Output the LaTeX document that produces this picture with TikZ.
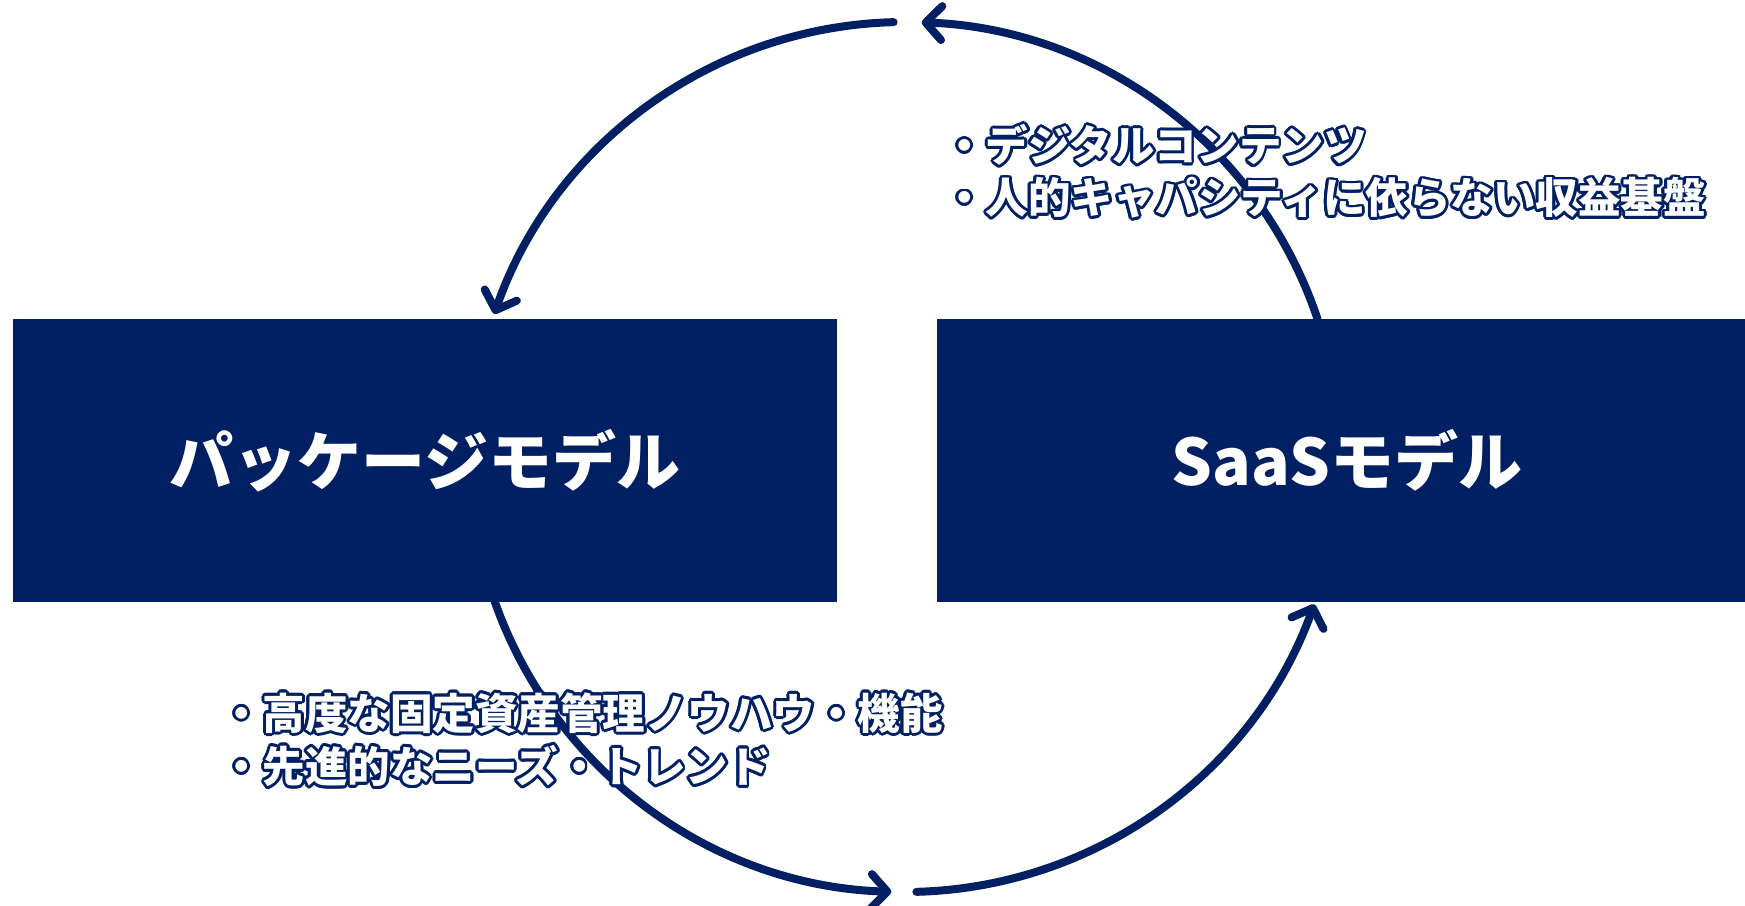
\documentclass[tikz,border=0pt]{standalone}
\usepackage{fontspec}
\newfontfamily\jp{Noto Sans CJK JP}
\usetikzlibrary{arrows.meta,calc}
\definecolor{navy}{RGB}{1,31,99}
\tikzset{
  box/.style={fill=navy, draw=none},
  boxlabel/.style={text=white, font=\jp\bfseries\fontsize{64}{72}\selectfont, inner sep=0},
  cyc/.style={draw=navy, line width=8pt, line cap=round, -{Straight Barb[length=16pt,width=34pt,round]}},
  lbl/.style={anchor=west, inner sep=0, font=\jp\bfseries\fontsize{42.5}{50}\selectfont},
}
\newcommand\halolabel[3]{%
  \foreach \a in {0,22.5,...,337.5} {
    \node[lbl, text=navy] (#1-h\a) at ($(#2)+(\a:2.8)$) {#3};
  }
  \node[lbl, text=white] (#1) at (#2) {#3};
}
\begin{document}
\begin{tikzpicture}[x=1pt,y=1pt]
\useasboundingbox (0,0) rectangle (1745,905);
% boxes
\node[box, minimum width=824pt, minimum height=283pt, inner sep=0, anchor=south west] (pkg) at (13,303) {};
\node[box, minimum width=808pt, minimum height=283pt, inner sep=0, anchor=south west] (saas) at (937,303) {};
\node[boxlabel] (pkgl) at (pkg.center) {パッケージモデル};
\node[boxlabel] (saasl) at ($(saas.center)+(6,0)$) {SaaSモデル};
% cycle arcs
\coordinate (c) at (905,448);
\draw[cyc] ([shift={(91.5:435)}]c) arc[start angle=91.5, end angle=160.8, radius=435];
\draw[cyc] ([shift={(18.5:435)}]c) arc[start angle=18.5, end angle=87.8, radius=435];
\draw[cyc] ([shift={(199.4:435)}]c) arc[start angle=199.4, end angle=268.2, radius=435];
\draw[cyc] ([shift={(271.5:435)}]c) arc[start angle=271.5, end angle=340.2, radius=435];
% annotations
\coordinate (t1) at (943,760);
\coordinate (t2) at (943,707);
\coordinate (b1) at (220,192);
\coordinate (b2) at (220,139);
\halolabel{ta}{t1}{・デジタルコンテンツ}
\halolabel{tb}{t2}{・人的キャパシティに依らない収益基盤}
\halolabel{ba}{b1}{・高度な固定資産管理ノウハウ・機能}
\halolabel{bb}{b2}{・先進的なニーズ・トレンド}
\end{tikzpicture}
\end{document}
